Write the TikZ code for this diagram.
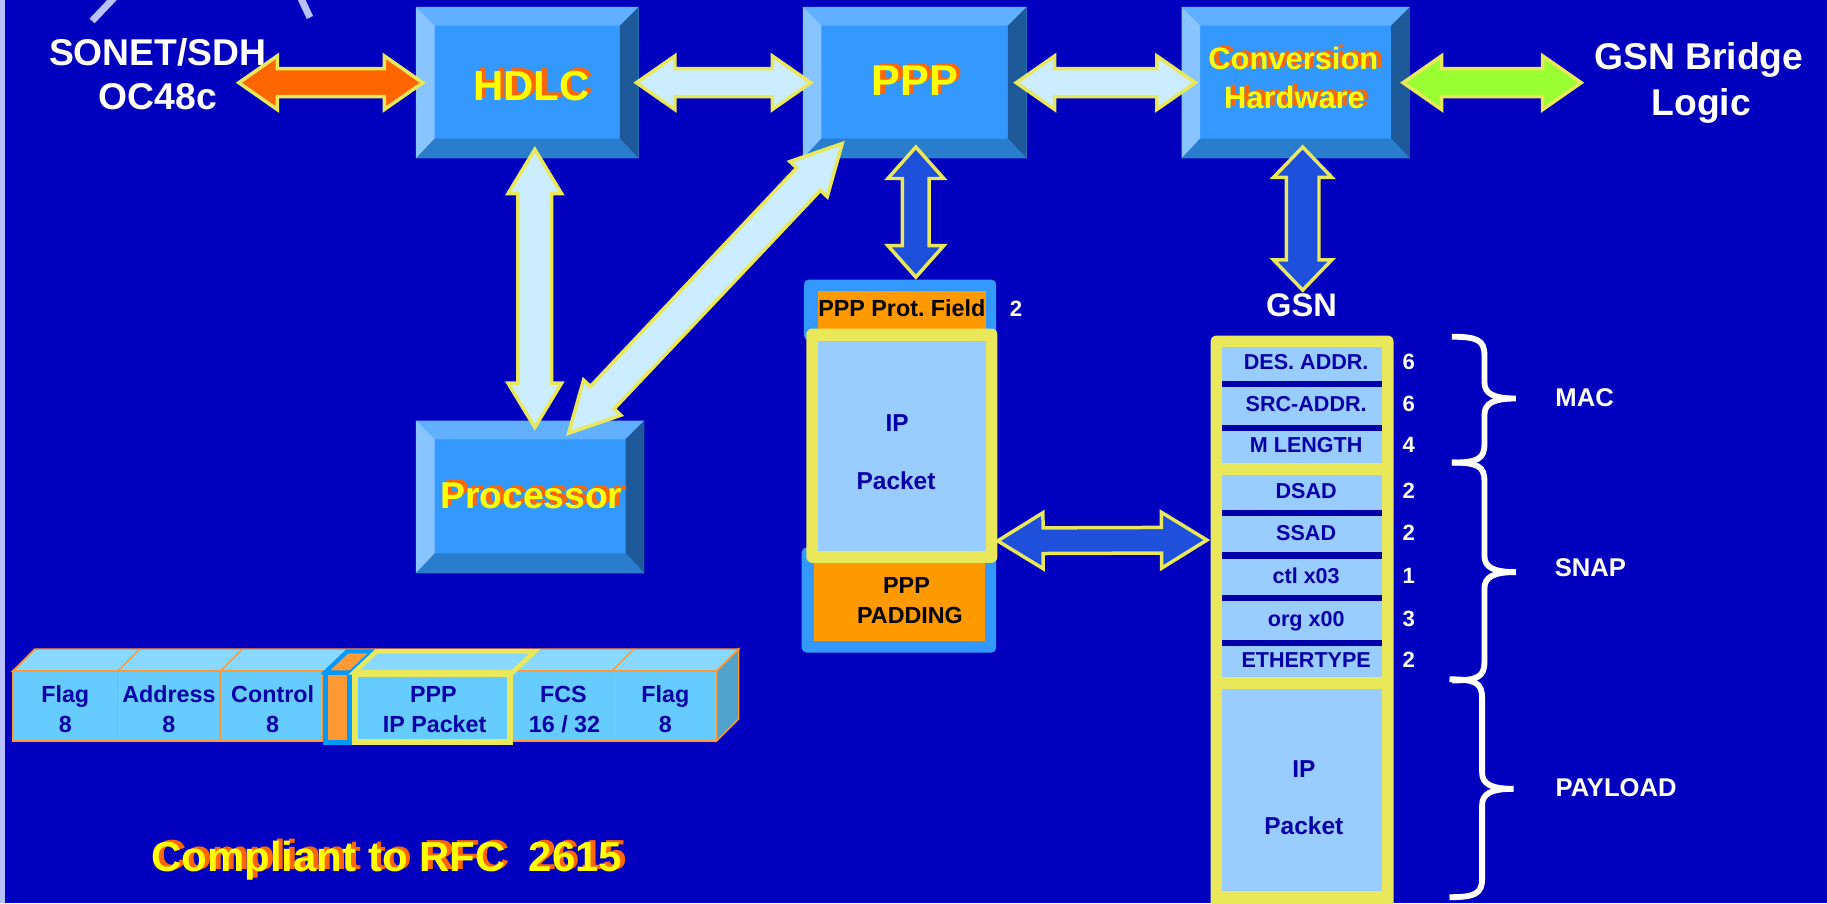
\documentclass[tikz,border=0pt]{standalone}
\usepackage{fontspec}
\setmainfont{Liberation Sans}
\usetikzlibrary{calc,fit}
\frenchspacing
\definecolor{bg}{RGB}{0,0,190}
\definecolor{face}{RGB}{51,153,255}
\definecolor{bvtop}{RGB}{96,176,255}
\definecolor{bvleft}{RGB}{136,196,255}
\definecolor{bvright}{RGB}{30,90,153}
\definecolor{bvbot}{RGB}{42,124,204}
\definecolor{ayel}{RGB}{232,232,90}
\definecolor{ltblue}{RGB}{204,236,255}
\definecolor{aorange}{RGB}{255,102,0}
\definecolor{agreen}{RGB}{153,255,51}
\definecolor{ablue}{RGB}{30,80,220}
\definecolor{cellblue}{RGB}{153,204,255}
\definecolor{dkblue}{RGB}{0,0,170}
\definecolor{porange}{RGB}{255,153,0}
\definecolor{pblue}{RGB}{51,153,255}
\definecolor{frfront}{RGB}{102,204,255}
\definecolor{frtop}{RGB}{136,216,255}
\definecolor{frside}{RGB}{79,163,204}
\definecolor{frorange}{RGB}{255,153,51}
\definecolor{frblue}{RGB}{0,153,255}
\definecolor{lav}{RGB}{184,192,255}
\definecolor{tyel}{RGB}{255,255,0}

\newcommand\bevbox[5]{%
  \fill[face] (#2,#3) rectangle (#4,#5);
  \fill[bvtop] (#2,#3) -- (#4,#3) -- (#4-16,#3+16) -- (#2+16,#3+16) -- cycle;
  \fill[bvleft] (#2,#3) -- (#2+16,#3+16) -- (#2+16,#5-17) -- (#2,#5) -- cycle;
  \fill[bvright] (#4,#3) -- (#4-16,#3+16) -- (#4-16,#5-17) -- (#4,#5) -- cycle;
  \fill[bvbot] (#2,#5) -- (#2+16,#5-17) -- (#4-16,#5-17) -- (#4,#5) -- cycle;
  \node[fit={(#2,#3) (#4,#5)}, inner sep=0pt] (#1) {};
}
\newcommand\shadtext[5]{%
  \node[anchor=base, inner sep=0pt, font=\bfseries\fontsize{#4}{#4}\selectfont] (#1) at (#2,#3)
    {\makebox[0pt][l]{\hspace*{4pt}\raisebox{2pt}{\textcolor{aorange}{#5}}}\textcolor{tyel}{#5}};
}
\newcommand\blkarrow[6]{%
  \coordinate (ba-a) at (#1);
  \coordinate (ba-b) at (#2);
  \coordinate (ba-p) at ($(ba-a)!#5!(ba-b)$);
  \coordinate (ba-q) at ($(ba-b)!#5!(ba-a)$);
  \filldraw[fill=#6, draw=ayel, line width=3pt, line join=miter]
    (ba-a) -- ($(ba-p)!#4!90:(ba-b)$) -- ($(ba-p)!#3!90:(ba-b)$)
    -- ($(ba-q)!#3!-90:(ba-a)$) -- ($(ba-q)!#4!-90:(ba-a)$) -- (ba-b)
    -- ($(ba-q)!#4!90:(ba-a)$) -- ($(ba-q)!#3!90:(ba-a)$)
    -- ($(ba-p)!#3!-90:(ba-b)$) -- ($(ba-p)!#4!-90:(ba-b)$) -- cycle;
}
\newcommand\gcell[5]{%
  \node[fit={(1049,#2) (1186,#3)}, inner sep=0pt, fill=cellblue] (#1) {};
  \node[celltxt] (#1-t) at (1121,{(#2+#3)/2+5}) {#4};
  \node[numtxt] (#1-n) at (1209,{(#2+#3)/2+5}) {#5};
}
\newcommand\gbrace[4]{%
  \draw[white, line width=5pt] (#1,#2) .. controls (#1+22,#2) and (#1+28,#2+3) .. (#1+28,#2+16)
    -- (#1+28,#4-14) .. controls (#1+28,#4-4) and (#1+36,#4) .. (#1+55,#4)
    .. controls (#1+36,#4) and (#1+28,#4+4) .. (#1+28,#4+14)
    -- (#1+28,#3-16) .. controls (#1+28,#3-3) and (#1+22,#3) .. (#1,#3);
}

\begin{document}
\begin{tikzpicture}[x=1pt,y=-1pt,
  lbl/.style={anchor=base, inner sep=0pt, text=white, font=\bfseries\fontsize{32}{32}\selectfont},
  lblm/.style={anchor=base, inner sep=0pt, text=white, font=\bfseries\fontsize{28}{28}\selectfont},
  lbls/.style={anchor=base, inner sep=0pt, text=white, font=\bfseries\fontsize{22}{22}\selectfont},
  celltxt/.style={anchor=base, inner sep=0pt, text=dkblue, font=\bfseries\fontsize{18.5}{18.5}\selectfont},
  numtxt/.style={anchor=base, inner sep=0pt, text=white, font=\bfseries\fontsize{19}{19}\selectfont},
  iptxt/.style={anchor=base, inner sep=0pt, text=dkblue, font=\bfseries\fontsize{21}{21}\selectfont},
  blktxt/.style={anchor=base, inner sep=0pt, text=black, font=\bfseries\fontsize{20}{20}\selectfont},
  frtxt/.style={anchor=base, inner sep=0pt, text=dkblue, font=\bfseries\fontsize{20}{20}\selectfont},
  frcell/.style={inner sep=0pt, fill=frfront, draw=frorange, line width=1.3pt}
]
\fill[bg] (0,0) rectangle (1568,775);
\useasboundingbox (0,0) rectangle (1568,775);
\clip (0,0) rectangle (1568,775);
\fill[lav] (0,0) rectangle (4,775);
\draw[lav, line width=6pt] (98,-2) -- (79,18);
\draw[lav, line width=6pt] (258,-2) -- (266,15);

% beveled boxes
\bevbox{hdlc}{357}{6}{548}{136}
\bevbox{ppp}{689}{6}{881}{136}
\bevbox{conv}{1014}{6}{1210}{136}
\bevbox{proc}{357}{361}{553}{492}
\shadtext{hdlct}{456}{86}{36}{HDLC}
\shadtext{pppt}{785}{82}{37}{PPP}
\shadtext{convta}{1110}{60}{26.5}{Conversion}
\shadtext{convtb}{1111}{93}{26.5}{Hardware}
\shadtext{proct}{456}{436}{32}{Processor}
\shadtext{rfc}{332}{748}{36}{Compliant to RFC\ \ 2615}

% white labels
\node[lbl] (sonet1) at (135.5,56) {SONET/SDH};
\node[lbl] (sonet2) at (135.5,94) {OC48c};
\node[lbl] (bridge1) at (1458,60) {GSN Bridge};
\node[lbl] (bridge2) at (1460,99) {Logic};
\node[lblm] (gsn) at (1117,272) {GSN};

% PPP frame
\node[fit={(690,240) (855,292)}, inner sep=0pt, fill=pblue, rounded corners=4pt] (protbox) {};
\node[fit={(702,250) (846,285)}, inner sep=0pt, fill=porange] (protfield) {};
\node[fit={(688,470) (855,560)}, inner sep=0pt, fill=pblue, rounded corners=4pt] (padbox) {};
\node[fit={(699,482) (845,550)}, inner sep=0pt, fill=porange] (padfield) {};
\node[fit={(692,282) (856,483)}, inner sep=0pt, fill=ayel, rounded corners=5pt] (ipbox) {};
\node[fit={(702,293) (846,473)}, inner sep=0pt, fill=cellblue] (ipin) {};
\node[blktxt] (prott) at (774,272) {PPP Prot. Field};
\node[numtxt] (protn) at (872,272) {2};
\node[iptxt] (ipt1) at (770,370) {IP};
\node[iptxt] (ipt2) at (769,420) {Packet};
\node[blktxt] (padt1) at (778,509) {PPP};
\node[blktxt] (padt2) at (781,535) {PADDING};

% GSN stack
\node[fit={(1039,288) (1196,800)}, inner sep=0pt, fill=ayel, rounded corners=5pt] (gsnstack) {};
\fill[dkblue] (1049,298) rectangle (1186,397);
\fill[dkblue] (1049,408) rectangle (1186,581);
\gcell{des}{298}{327}{DES. ADDR.}{6}
\gcell{src}{332}{365}{SRC-ADDR.}{6}
\gcell{mlen}{370}{397}{M LENGTH}{4}
\gcell{dsad}{408}{438}{DSAD}{2}
\gcell{ssad}{443}{474}{SSAD}{2}
\gcell{ctl}{480}{511}{ctl x03}{1}
\gcell{org}{516}{549}{org x00}{3}
\gcell{eth}{554}{581}{ETHERTYPE}{2}
\node[fit={(1049,591) (1186,765)}, inner sep=0pt, fill=cellblue] (gip) {};
\node[iptxt] (gipt1) at (1119,667) {IP};
\node[iptxt] (gipt2) at (1119,716.5) {Packet};

% braces
\gbrace{1246}{289}{397}{342}
\gbrace{1246}{397}{584}{491}
\gbrace{1244}{583}{770}{677}
\node[lbls] (mac) at (1360,349) {MAC};
\node[lbls] (snap) at (1365,495) {SNAP};
\node[lbls] (payload) at (1387,684) {PAYLOAD};

% HDLC frame
\filldraw[fill=frtop, draw=frorange, line width=1.3pt] (11,576) -- (30,557) -- (634,557) -- (615,576) -- cycle;
\filldraw[fill=frside, draw=frorange, line width=1.3pt] (615,576) -- (634,557) -- (634,617) -- (615,636) -- cycle;
\draw[frorange, line width=1.3pt] (101,576) -- (120,557) (189,576) -- (208,557) (525,576) -- (544,557);
\node[frcell, fit={(11,576) (101,636)}] (fflag1) {};
\node[frcell, fit={(101,576) (189,636)}] (faddr) {};
\node[frcell, fit={(189,576) (277,636)}] (fctrl) {};
\node[frcell, fit={(440,576) (525,636)}] (ffcs) {};
\node[frcell, fit={(525,576) (615,636)}] (fflag2) {};
\filldraw[fill=frorange, draw=frblue, line width=3.5pt] (279,577) -- (298,559) -- (320,559) -- (301,577) -- cycle;
\node[fit={(279.5,577.5) (300,637)}, inner sep=0pt, fill=frorange, draw=frblue, line width=4pt] (fprot) {};
\filldraw[fill=frtop, draw=ayel, line width=4pt] (304,577) -- (323,559) -- (459,559) -- (440,577) -- cycle;
\node[fit={(304.5,578.5) (437.5,636.5)}, inner sep=0pt, fill=frfront, draw=ayel, line width=5pt] (fppp) {};
\node[frtxt] (fflag1a) at (56,603) {Flag};
\node[frtxt] (fflag1b) at (56,629) {8};
\node[frtxt] (faddra) at (145,603) {Address};
\node[frtxt] (faddrb) at (145,629) {8};
\node[frtxt] (fctrla) at (234,603) {Control};
\node[frtxt] (fctrlb) at (234,629) {8};
\node[frtxt] (fpppa) at (372,603) {PPP};
\node[frtxt] (fpppb) at (373,629) {IP Packet};
\node[frtxt] (ffcsa) at (483.5,603) {FCS};
\node[frtxt] (ffcsb) at (484.5,629) {16 / 32};
\node[frtxt] (fflag2a) at (571,603) {Flag};
\node[frtxt] (fflag2b) at (571,629) {8};

% arrows
\coordinate (sonetend) at (205,71);
\coordinate (bridgeend) at (1357,71);
\blkarrow{sonetend}{$(hdlc.west)+(6,0)$}{12pt}{23pt}{33pt}{aorange}
\blkarrow{$(hdlc.east)+(-2,0)$}{$(ppp.west)+(7,0)$}{12pt}{23pt}{33pt}{ltblue}
\blkarrow{$(ppp.east)+(-9,0)$}{$(conv.west)+(12,0)$}{12pt}{23pt}{33pt}{ltblue}
\blkarrow{$(conv.east)+(-6,0)$}{bridgeend}{12pt}{23pt}{33pt}{agreen}
\blkarrow{$(hdlc.south)+(6.5,-8)$}{$(proc.north)+(4,6)$}{14.5pt}{23pt}{38pt}{ltblue}
\blkarrow{$(proc.north)+(33,11)$}{$(ppp.south west)+(34,-13)$}{14pt}{22pt}{42pt}{ltblue}
\blkarrow{$(ppp.south)+(1,-10)$}{$(protbox.north)+(13.5,-2)$}{11.5pt}{24pt}{27pt}{ablue}
\blkarrow{$(conv.south)+(6,-10)$}{$(gsn.base)+(1,-23)$}{14pt}{25pt}{26pt}{ablue}
\blkarrow{$(ipbox.south east)+(0,-19)$}{$(ssad.west)+(-13,5)$}{11pt}{24pt}{39pt}{ablue}
\end{tikzpicture}
\end{document}
